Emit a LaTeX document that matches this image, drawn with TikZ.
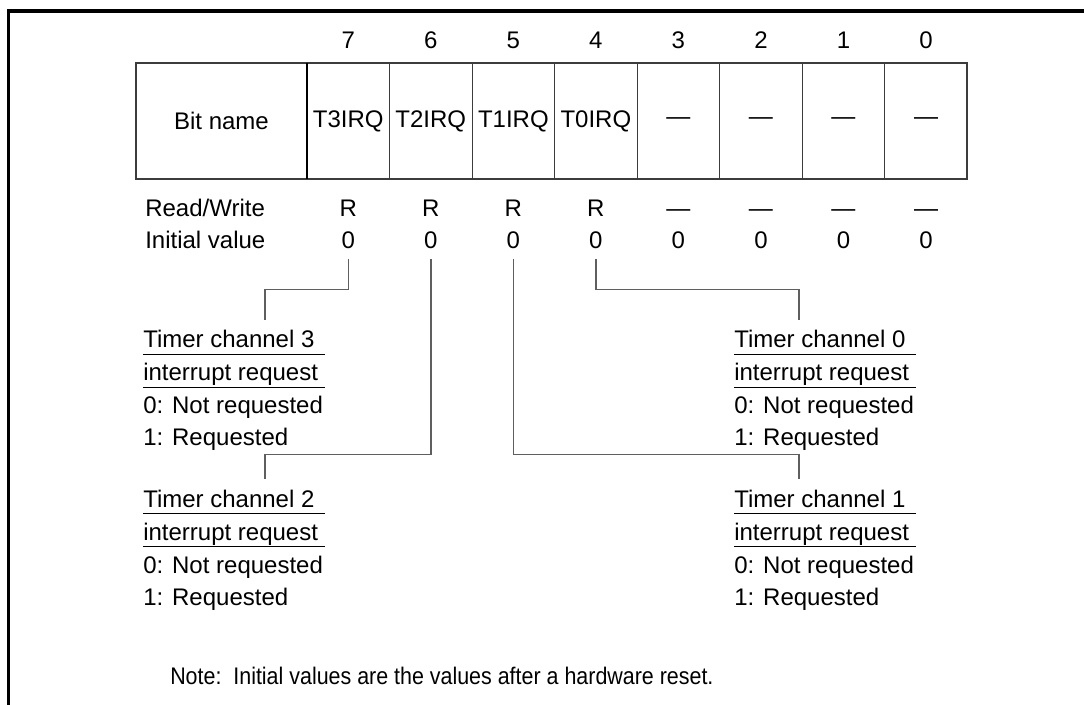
\documentclass[tikz,border=0pt]{standalone}
\usepackage{fontspec}
\setmainfont{Liberation Sans}
\usepackage{xcolor}
\usepackage{graphicx}
\usetikzlibrary{positioning}
\definecolor{rulegray}{RGB}{60,60,60}
\definecolor{leadgray}{RGB}{95,95,95}
\setlength{\arrayrulewidth}{0.75pt}
\newcommand{\ulrow}{\noalign{\vskip-3pt}\hline\noalign{\vskip3pt}}
\newcommand{\irq}[1]{\begin{tabular}[t]{@{}l@{\hspace{1.5pt}}}Timer channel #1\\\ulrow interrupt request\\\ulrow 0: Not requested\\1: Requested\end{tabular}}

\begin{document}
\begin{tikzpicture}[x=0.75pt,y=-0.75pt,font=\fontsize{18}{24}\selectfont,
 cell/.style={draw=rulegray,line width=0.75pt,minimum width=61.9pt,minimum height=87pt,inner sep=0pt,outer sep=0pt},
 txt/.style={inner sep=0pt,anchor=base},
 lbl/.style={inner sep=0pt,anchor=base west},
 lead/.style={draw=leadgray,line width=1.1pt}]
 \useasboundingbox (0,0) rectangle (1084,705);
 \draw[line width=2.5pt] (8.5,705) -- (8.5,11) -- (1084,11);
 % register cells
 \node[cell,minimum width=128.25pt](bn) at (221.5,121){Bit name};
 \node[cell,right=0pt of bn](c7){T3IRQ};
 \node[cell,right=0pt of c7](c6){T2IRQ};
 \node[cell,right=0pt of c6](c5){T1IRQ};
 \node[cell,right=0pt of c5](c4){T0IRQ};
 \node[cell,right=0pt of c4](c3){\textemdash};
 \node[cell,right=0pt of c3](c2){\textemdash};
 \node[cell,right=0pt of c2](c1){\textemdash};
 \node[cell,right=0pt of c1](c0){\textemdash};
 \draw[rulegray,line width=1.5pt](bn.north west) rectangle (c0.south east);
 \draw[line width=1.5pt](bn.north east) -- (bn.south east);
 % bit numbers
 \coordinate (ybit) at (0,49);
 \node[txt](n7) at (c7 |- ybit){7}; \node[txt](n6) at (c6 |- ybit){6};
 \node[txt](n5) at (c5 |- ybit){5}; \node[txt](n4) at (c4 |- ybit){4};
 \node[txt](n3) at (c3 |- ybit){3}; \node[txt](n2) at (c2 |- ybit){2};
 \node[txt](n1) at (c1 |- ybit){1}; \node[txt](n0) at (c0 |- ybit){0};
 % read/write and initial value
 \node[lbl](rw) at (145,217){Read/Write};
 \node[lbl](iv) at (145,249){Initial value};
 \node[txt](r7) at (c7 |- rw.base){R}; \node[txt](r6) at (c6 |- rw.base){R};
 \node[txt](r5) at (c5 |- rw.base){R}; \node[txt](r4) at (c4 |- rw.base){R};
 \node[txt](r3) at (c3 |- rw.base){\textemdash}; \node[txt](r2) at (c2 |- rw.base){\textemdash};
 \node[txt](r1) at (c1 |- rw.base){\textemdash}; \node[txt](r0) at (c0 |- rw.base){\textemdash};
 \node[txt](i7) at (c7 |- iv.base){0}; \node[txt](i6) at (c6 |- iv.base){0};
 \node[txt](i5) at (c5 |- iv.base){0}; \node[txt](i4) at (c4 |- iv.base){0};
 \node[txt](i3) at (c3 |- iv.base){0}; \node[txt](i2) at (c2 |- iv.base){0};
 \node[txt](i1) at (c1 |- iv.base){0}; \node[txt](i0) at (c0 |- iv.base){0};
 % bit descriptions
 \node[lbl](t3) at (143,348){\irq{3}};
 \node[lbl](t2) at (143,507){\irq{2}};
 \node[lbl](t0) at (734,348){\irq{0}};
 \node[lbl](t1) at (734,507){\irq{1}};
 \draw[lead]([yshift=-7.5pt]i7.south) -- ++(0,30) -| ([xshift=91.5pt,yshift=4pt]t3.north west);
 \draw[lead]([yshift=-7.5pt]i6.south) -- ++(0,195) -| ([xshift=91.5pt,yshift=4pt]t2.north west);
 \draw[lead]([yshift=-7.5pt]i4.south) -- ++(0,30) -| ([xshift=48.75pt,yshift=4pt]t0.north west);
 \draw[lead]([yshift=-7.5pt]i5.south) -- ++(0,195) -| ([xshift=48.75pt,yshift=4pt]t1.north west);
 \node[lbl](note) at (170,684){\scalebox{0.893}[1]{Note:\ \ Initial values are the values after a hardware reset.}};
\end{tikzpicture}
\end{document}
